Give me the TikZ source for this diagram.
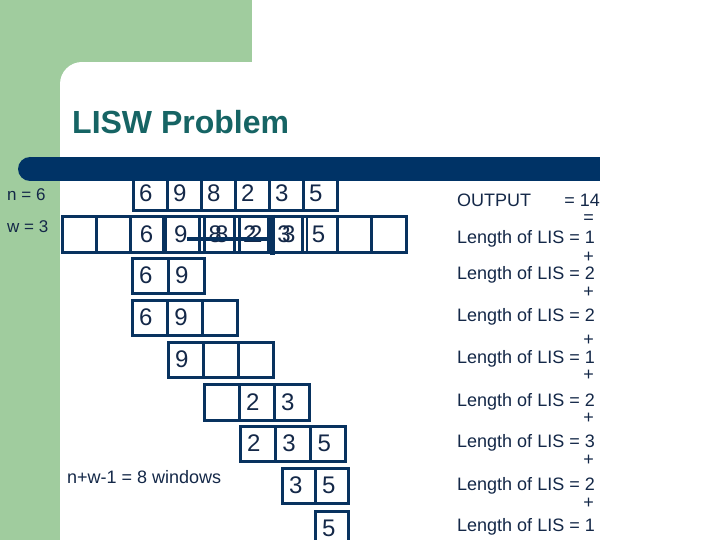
\documentclass[tikz,border=0pt]{standalone}
\usepackage{fontspec}
\setmainfont{Liberation Sans}
\definecolor{bggreen}{RGB}{160,204,158}
\definecolor{barblue}{RGB}{0,51,102}
\definecolor{titleteal}{RGB}{22,100,100}
\definecolor{txt}{RGB}{20,40,72}
\definecolor{boxline}{RGB}{8,50,95}
\tikzset{
  cellbox/.style={draw=boxline, line width=3pt, inner ysep=0pt, outer sep=0pt,
    text=txt, font=\fontsize{24}{24}\selectfont, anchor=north west},
  rt/.style={text=txt, font=\fontsize{18}{18}\selectfont, inner sep=0pt},
  smalllab/.style={text=txt, font=\fontsize{17}{17}\selectfont, inner sep=0pt, anchor=base west},
  ghost/.style={text=txt, font=\fontsize{24}{24}\selectfont, inner sep=0pt, anchor=west},
  extraline/.style={draw=boxline, line width=2.6pt},
  thickline/.style={draw=boxline, line width=5pt},
}
% #1 name, #2 left, #3 top, #4 cell width, #5 height, #6 pad, #7 list
\newcommand\drawrow[7]{%
  \foreach \v [count=\i] in {#7} {%
    \pgfmathsetmacro\xx{#2+(\i-1)*#4}%
    \node[cellbox, inner xsep=#6pt, minimum width=#4pt, minimum height=#5pt]
      (#1c\i) at (\xx,#3) {\makebox[\dimexpr #4pt-#6pt-#6pt\relax][l]{\v}};%
  }}
\begin{document}
\begin{tikzpicture}[x=1pt,y=-1pt]
\useasboundingbox (0,0) rectangle (720,540);
% background
\fill[bggreen] (0,0) rectangle (720,540);
\fill[white] (252,0) rectangle (720,540);
\fill[white] (82,62) rectangle (720,540);
\fill[white] (60,84) rectangle (720,540);
\fill[white] (82,84) circle[radius=22pt];
% rows
\drawrow{ra}{133}{176}{34}{35}{6}{6,9,8,2,3,5}
\drawrow{rb}{62}{217}{34.4}{35}{9}{{},{},6,9,8,2,3,5,{},{}}
\drawrow{rc}{132}{258}{36}{35}{7}{6,9}
\drawrow{rd}{132}{300}{35.3}{35}{7}{6,9,{}}
\drawrow{re}{168}{342}{35}{35}{7}{9,{},{}}
\drawrow{rf}{204}{384}{35}{36}{7}{{},2,3}
\drawrow{rg}{240}{426}{35.3}{35}{7}{2,3,5}
\drawrow{rh}{282}{468}{33}{35}{7}{3,5}
\drawrow{ri}{315}{511}{33}{35}{7}{5}
% overlay marks on row 2
\draw[thickline] (164.5,215) -- (164.5,253);
\draw[extraline] (204.5,216) -- (204.5,252);
\draw[extraline] (239.5,216) -- (239.5,252);
\draw[thickline] (272.5,215) -- (272.5,255);
\draw[extraline] (307,216) -- (307,252);
\node[ghost] (g8) at (215,234.5) {8};
\node[ghost] (g2) at (249,234.5) {2};
\node[ghost] (g3) at (282,234.5) {3};
\coordinate (hla) at (187,239);
\coordinate (hlb) at (272,239);
\draw[boxline, line width=4pt] (hla) -- (hlb);
% bar
\fill[barblue] (30,157) rectangle (600,181);
\fill[barblue] (30,169) circle[radius=12pt];
% title
\node[anchor=base west, inner sep=0pt, text=titleteal,
  font=\bfseries\fontsize{32}{32}\selectfont] (title) at (72,134) {LISW Problem};
% left labels
\node[smalllab] (nlab) at (7,201) {n = 6};
\node[smalllab] (wlab) at (7,233) {w = 3};
\node[rt, anchor=base west] (nw) at (67,483) {n+w-1 = 8 windows};
% right column
\node[rt, anchor=base west] (out) at (457,207) {OUTPUT};
\node[rt, anchor=base east] (out14) at (600,207) {= 14};
\node[rt, anchor=base east] (eq) at (594,224) {=};
\foreach \yy/\vv [count=\k] in {243.5/1,279.5/2,321.5/2,363/1,406/2,447.5/3,490/2,531.5/1}{
  \node[rt, anchor=base west] (lis\k) at (457,\yy) {Length of LIS = \vv};
}
\foreach \yy [count=\k] in {262.5,297.5,345.5,380.5,423.5,465.5,508.5}{
  \node[rt, anchor=base east] (plus\k) at (594,\yy) {+};
}
\end{tikzpicture}
\end{document}
